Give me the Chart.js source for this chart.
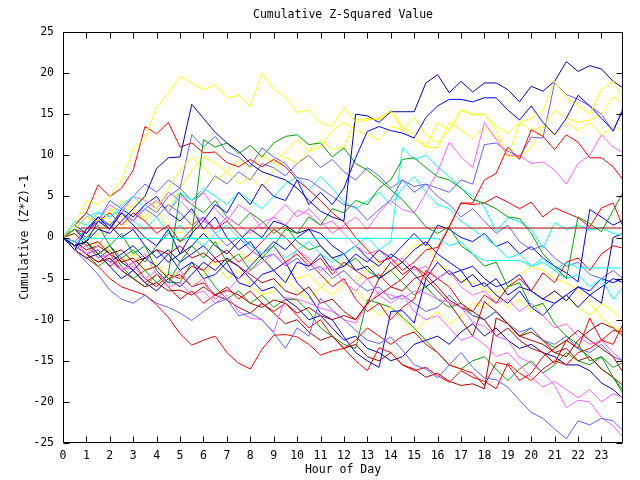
<!DOCTYPE html>
<html>
<head>
<meta charset="utf-8">
<title>Cumulative Z-Squared Value</title>
<script src="https://cdn.jsdelivr.net/npm/chart.js@4.4.0/dist/chart.umd.min.js"></script>
<style>
  html, body { margin: 0; padding: 0; background: #fff; }
  #wrap { width: 640px; height: 480px; }
</style>
</head>
<body>
<div id="wrap"><canvas id="chart" width="640" height="480"></canvas></div>
<script>
// sample times (hour of day), one every half hour
const hours = [0,0.5,1,1.5,2,2.5,3,3.5,4,4.5,5,5.5,6,6.5,7,7.5,8,8.5,9,9.5,10,10.5,11,11.5,12,12.5,13,13.5,14,14.5,15,15.5,16,16.5,17,17.5,18,18.5,19,19.5,20,20.5,21,21.5,22,22.5,23,23.5,23.92];
const hourTicks = [0,1,2,3,4,5,6,7,8,9,10,11,12,13,14,15,16,17,18,19,20,21,22,23];
const valueTicks = [-25,-20,-15,-10,-5,0,5,10,15,20,25];

// the flat dark red line
const flatHours = [0.75, 23.92];
const flatRed = [1.15, 1.15];

// cumulative (z*z)-1 per series
const cyanA = [0,-0.6,-0.1,-0.1,-0.1,-0.1,-0.1,-0.1,-0.1,-0.1,-0.1,-0.1,-0.1,-0.1,-0.1,-0.1,-0.1,-0.1,-0.1,-0.1,-0.1,-0.1,-0.1,-0.1,-0.1,-0.1,-0.1,-0.1,-0.1,-0.1,-0.1,-0.1,-0.1,-1,-0.5,-2,-2.8,-2.8,-2.8,-2.8,-3.5,-2.5,-4,-3,-3.7,-3.7,-3.7,-3.7,-3.7];
const yellowA = [0,1.5,4.5,4,5,7,10.8,12,15.9,17.5,19.6,18.8,18,18.6,17,17.3,16,20,18,17.1,15.2,15.5,14,13.5,15.8,14,14.3,14.5,15.5,13.5,12.5,11,14,13,15.5,15,15,13.5,12.7,14,14.5,15.5,19,17,16,15,18,19,17];
const blueA = [0,-1,-0.5,1,0.5,2,3.5,5,8.4,9.7,9.8,16.2,14.5,12.8,11.5,10.5,9,8,7.5,7,6,4.5,3.2,2.5,2,15,14.8,14,15.3,15.3,15.3,18.8,19.8,17.6,19,17.7,18.8,18.8,18,16.5,18.4,17.8,19,21.4,20.2,20.9,20.5,19,18.2];
const blueB = [0,-1.5,1,2.5,1,3,1.5,0,-1,1,-2,0.5,2,4,3,5.5,4,6.5,5,4.5,7,4,5.5,4,6,9.7,12.9,13.5,13,12.7,12.1,14.6,16,16.8,16.8,16.5,17,17,15.5,14.3,16,14,12.5,14.5,17.3,16,14.5,13,15.5];
const redA = [0,1.5,3,6.4,5,6,8.2,13.5,12.6,14,11,11.5,10.3,10.4,9.1,8.6,9.5,8.6,9.5,8.6,7,5.8,4.5,3,1.9,0,-1.5,-3,-2.5,-4,-3,-1.5,-1.2,1.3,4.2,4.2,7,7.8,11,9.5,13.1,12.3,10.7,12.5,11.6,9.7,9.7,8.6,7];
const greenA = [0,-1,-0.5,-2,-1,-2.5,-1.5,-3,-1,0.5,-0.5,0.3,11.9,11,11.5,10.2,11.2,9.8,11.5,12.3,12.5,11.3,11.5,9.8,10.9,9,8.2,7,5.8,4.6,3,1.3,0.5,1.3,-1,-2,-3.5,-3,-6,-5.5,-8.5,-8,-10.5,-12,-13,-15,-14.5,-17,-19];
const greenB = [0,1,0,1.5,-1,0.5,-2,-1,-4,-5.5,-3,-1,-2.5,-0.5,-3,-2,-4,-2.5,-1,1,0.5,2.5,1.5,3.5,3,4.5,4,6,7,9.5,9.7,8.5,7.4,7,6,4.6,4.2,3.5,2.5,2.3,0.5,-2,-3.5,-5,2.5,1.7,0.7,3.3,5.5];
const magentaA = [0,-0.5,-2,-1,1,3,2,3.5,4.5,3,5,4,5.5,3.5,2,4,3,1,2.5,4,2.5,3.5,2,0.5,1.5,2.5,1,3,4.5,3.4,3,5.4,8,11.6,9.8,8.5,14,11.9,10,10,9,9.2,8.2,6.5,9,10,12.5,11,10.3];
const yellowB = [0,1,2.5,2,3.5,2.5,4,5,3.5,6,8.2,9.8,8.5,7,8,6.5,7.5,6,8.2,9.8,9,10.5,11.9,10.7,11,14.3,14.5,14.3,15.5,13.1,14.6,12.5,11.5,13.1,15.5,14.9,15,13,9.7,14,13,13.5,15.5,14.5,14,14.3,15,17.1,16.4];
const lightBlueA = [0,-1,1,2.5,1.5,3,2,4,3,5,6,12.5,11,12.3,10.4,9.8,8.6,10.9,9.8,9,7.3,7,6,5,4,3.7,2.1,3.4,4.6,7,6.2,6.5,6,5.5,7,6.5,11.3,11.5,10.5,9.8,12.2,12.1,18.8,17.4,16.8,16,15,12.9,15.8];
const cyanB = [0,1,2.5,3.1,2.5,3.5,2,1,2.5,0.5,1.5,0,-1,0.5,1.5,0,-1,-2,-1,-2.5,-1.5,-0.5,-2,-3,-2,-1,0,-1.5,-0.5,10.9,9.5,10,8.6,7.4,6,5,3.7,0.7,2.4,1.9,1,-1.3,1.8,1,1.5,0.9,1.2,0.5,0.3];
const cyanC = [0,2,1.5,3,2.5,4,5,3.5,4.5,3,5.5,4.5,6,5,4,5.5,4.5,3.5,5,6.5,7.4,5.8,7.4,6,4.3,3.5,4.5,5.5,4,6,7.4,5.5,4,3.5,2,1,0,-1,-2.5,-2,-3.5,-3,-4,-5,-4.5,-6,-5,-7.5,-6];
const lightBlueB = [0,-1.5,-3,-4.5,-6.4,-7.5,-8,-7,-8,-8.5,-9.2,-10.1,-9,-8,-7.5,-9.5,-9.2,-10,-11.6,-13.5,-11,-12,-7.4,-8.8,-10,-11.3,-12.5,-12.9,-12.1,-13.7,-15.5,-16,-17.1,-15.5,-14,-15.8,-17.1,-17.3,-18.2,-19.8,-21.3,-22,-23.3,-24.5,-22.3,-22.8,-22,-22.3,-23.5];
const redB = [0,-1.5,-2.5,-3.5,-5,-6,-6.5,-7,-8.2,-9.7,-11.7,-13.1,-12.5,-12,-14,-15.3,-16,-13.6,-11.9,-11.8,-12.1,-13,-14.3,-13.8,-13.5,-15,-16.2,-13.4,-14,-15.5,-16.2,-15.8,-16.8,-17.6,-16.2,-17,-17.5,-18.4,-15.3,-16.5,-17.4,-16,-15,-15.5,-14,-13.5,-12.5,-13,-10.5];
const magentaB = [0,-1,-2,-1.5,-3,-4,-3.5,-5,-4,-6,-5.5,-7,-6.5,-8,-7,-9,-9.8,-10,-11.5,-7.3,-7.5,-8,-8.6,-9,-10,-10.4,-8.2,-6.6,-7,-7.5,-6.5,-6.8,-7.5,-7.9,-8.5,-10.3,-10.8,-12,-12.5,-14.6,-15.3,-16.5,-18,-20.7,-19.8,-20,-21.9,-22.9,-24.3];
const magentaC = [0,-1.5,-1,-2.5,-2,-4,-3,-2,-4.5,-5.5,-4,-6,-5,-7.5,-6.5,-5,-4,-3,-2,-3.5,-1.5,-2.5,-4,-3.5,-5.5,-6.5,-5,-7,-8,-7,-9,-10,-9.5,-11,-12.5,-12,-13,-14.5,-14,-15.5,-17,-18.2,-17.5,-18.5,-19.5,-18.5,-20,-19,-19.5];
const magentaD = [0,1,2.5,2,4,3,5,4.5,3.5,5.5,4.5,3,2,1,2.5,1.5,0.5,1.8,2.5,1.5,3.3,2.8,1.5,2,0.5,-1,-2,-1.5,-3,-2.5,-4,-3.5,-5,-4,-6,-7,-6.5,-8,-7.5,-9,-8,-9.5,-11,-10.5,-12,-13,-12.5,-14,-15];
const darkRedA = [0,-0.5,-1.5,-1,-2,-1.5,-3,-2.5,-1.5,-2,-1,-2.5,-1.9,-3,-2.7,-3.5,-4.5,-5.5,-5,-6.5,-7,-6,-8,-7.5,-9,-10,-8,-7,-6,-6.5,-5,-4.5,-6,-7.6,-8.5,-9,-10,-12,-11,-12.5,-13.5,-14,-15.3,-12.5,-11.3,-12.5,-13.5,-14.5,-16.4];
const darkRedB = [0,-1,-2,-3,-2.5,-4,-5,-6,-5.5,-6.5,-6.4,-7,-6,-7,-7.6,-8.5,-9.2,-8,-9.2,-10.5,-10,-11.5,-12.5,-12,-13.5,-13,-14.5,-15,-14,-15.5,-16,-17,-16.5,-17.5,-18,-17.8,-18.4,-9.8,-10.5,-12,-12.5,-13,-14,-14.5,-12.5,-11.3,-10.4,-11,-12];
const darkRedC = [0,0.5,-1,-0.5,-2,-3,-2.5,-4,-3.5,-5,-4.5,-6,-5.5,-7,-6.4,-7,-8,-8.5,-7.6,-8,-9.2,-8.5,-9.5,-10,-9.5,-10,-8,-5,-3,-4.5,-3.5,-5,-6.5,-8,-10,-12,-7.8,-9,-10.5,-12,-11.5,-12.5,-14,-13.5,-15,-14.5,-16,-17,-18];
const blueC = [0,1,-0.5,2,1,3.5,2.5,4,5,3,2,3.5,1,2.5,0,-1.5,-0.5,-2.5,-4,-3,-5.5,-7,-9.2,-10,-12.1,-14,-15,-15.8,-9,-8.9,-10.4,-5,-3,-4.5,-4,-6,-5.5,-7,-8,-6.5,-8.5,-9.5,-8,-7,-6,-6.5,-5,-5.5,-5];
const blueD = [0,-1,-2,-1.5,-3,-2,-1,-2.5,-3.5,-2,-4,-3,-5,-4.5,-3,-5.5,-6,-4.5,-4,-5.5,-3,-3.5,-2,-4,-3.5,-2,-3,-1.5,-2.5,-1,0.5,-1,1.5,1,0,-0.5,0.5,-1.1,-0.5,-2,-1.1,-2.5,-3.5,-4.3,-5.4,3.4,2.5,1.5,2.1];
const blueE = [0,-1,-0.5,-2,-1,-3,-4,-2.5,-1.5,-3,-2,-1,0.5,-1,-2,-0.5,1,0,2,1.5,0.5,1,-1,-2.5,-2,-4,-3.5,-5,-4,-3,-4.5,-6,-5,-4,-5.5,-4.5,-6,-5,-7,-6,-6.5,-7.5,-6.5,-7.7,-6,-7,-8,0,0.5];
const blueF = [0,-1.5,-2.5,-2,-3.5,-5,-4,-5.5,-6.5,-5,-6,-4.5,-3,-4,-2.5,-3.5,-5,-6.5,-6,-7.5,-8.5,-10,-9.5,-11,-12.5,-12,-13.5,-14,-15,-14.5,-13,-12.5,-12,-13,-11.5,-10.5,-12,-11,-12.5,-13.5,-13,-14,-14.5,-15.5,-15.5,-16.2,-17.7,-18.5,-19.6];
const blueG = [0,1.5,0.5,2.5,1.5,0,1,-1,-2.5,-1.5,-3,-2,-1,-2.5,-4,-5,-3.5,-2,-0.5,-1.5,0,1,0.5,-1,-2,-1,-2.5,-3.5,-2,-3,-1.5,-0.5,-2,-3,-4,-3.5,-5,-6,-5.5,-4.5,-6.5,-7.5,-8,-7,-8.5,-7,-6,-5,-5.5];
const lightBlueC = [0,-0.5,1,2,1.5,3,2,3.5,2.5,4,3,1.5,2.5,0.5,-1,0,-1.5,-2.5,-2,-3.5,-2.5,-4,-3.5,-5,-4,-5.5,-6.5,-6,-7.5,-7,-8,-9,-8.5,-7,-8.5,-9.5,-10,-9,-10.5,-11.5,-11,-12.5,-13,-12,-13.5,-14,-13,-14.5,-15];
const lightBlueD = [0,1.5,3,2,4.5,3.5,5,6.5,5.5,7,6,4.5,5.5,7.5,6.5,8,7,9,8.5,7.5,9,10,8.5,9.5,8,7,8.5,7.5,6,7,5.5,6.5,5,4,2.5,3.5,2,0.5,1.5,-0.5,-1.5,-1,-2.5,-3.5,-3,-4.5,-5,-4,-5];
const redC = [0,-1,-2,-3,-2,-4,-3,-5,-6,-4.5,-5,-3.5,-4,-2.5,-1.5,-3,-2,-0.5,1,0,-1.5,-3,-4.5,-6,-5,-7.5,-9,-8,-10,-8.5,-7.5,-4,-5,-6,-8,-9,-7,-8,-6,-5,-6.5,-4.3,-5.5,-3,-2.5,-4,-2,-1,-1.3];
const redD = [0,1,0.5,2,3,1.5,3,2,0.5,1.5,-0.5,1,2.5,1,2,0.5,-1,-2,-1,-3,-2,-3.5,-2.5,-4.5,-3,-4,-5,-4.5,-6,-5,-3.5,-4.5,-1.5,1.3,4.2,4,4.2,5,4.3,3.5,4.3,2.5,3.6,3,2.4,1.3,3.6,4.2,1.3];
const redE = [0,-1,-0.5,-2,-3.5,-2.5,-4,-5.5,-4.5,-6,-7.5,-6.5,-8,-7,-6,-7.5,-6.5,-8,-9,-8,-9.5,-11,-10,-12,-13.5,-12.5,-11,-12,-13,-12,-11.5,-13,-14,-15.5,-16,-16.5,-18,-15.2,-15.5,-17.4,-16.5,-14.5,-13.5,-12.5,-13.5,-9.8,-12.5,-11.3,-11.5];
const yellowC = [0,-1,-2,-0.5,-1.5,-3,-2,-4,-3,-5,-4,-6,-4.5,-3,-5,-4,-6,-7,-6.5,-5,-6.5,-7.5,-6,-5,-4,-5.5,-4,-3,-4.5,-2.5,-1,-0.7,-3,-4.3,-5.2,-5.5,-6.4,-6.8,-6,-4.5,-3.5,-4,-5,-5.5,-6.4,-8,-9.8,-10.9,-11.5];
const yellowD = [0,1,2.5,1.5,3,4.5,3.5,2,3.5,1,0.5,2,1,-1,0,-1.5,-3,-2,-4,-3,-5,-4.5,-6,-7,-5.5,-6.5,-8,-9.5,-8.5,-10,-11.5,-10,-9,-10.5,-9.5,-8,-8.5,-7,-8.5,-7.5,-9,-8,-6.5,-7.5,-8.5,-9.5,-8,-9,-10];
const yellowE = [0,0.5,-1,0.5,2,1,3,2.5,4.5,3.5,6,8.2,9.8,9,8,9.5,8.5,10,9,10.5,11.9,10.5,11,13,14,13.1,12.5,11.9,13.5,13.1,12,11,10.9,14,13.1,12,13.5,12.2,10,9.7,11,13.5,12.5,14,13,14,12.5,13.5,13];
const greenC = [0,-1.5,-0.5,-2.5,-1.5,-3.5,-5,-6,-4.5,-5.5,-5.5,-3,-4,-6,-7.5,-6.5,-8,-7,-8.5,-7.5,-7.6,-9,-11,-12,-13,-13.5,-7.6,-8,-8.5,-9.7,-11,-12.5,-14,-15.5,-16,-15,-14.5,-16,-17.4,-16,-15,-16.5,-15.5,-14,-15,-15.5,-14.5,-15.8,-15.2];
const greenD = [0,-1,-2,-3.5,-2.5,-4,-5,-4,-5.5,-4.5,5.4,4,3,4.5,2.5,1.5,3,2,0.5,1.5,-0.5,-1.5,-1,-2.5,-3.5,-2.5,-4,-5,-4,-5.5,-7,-6,-7.5,-8.5,-8,-9.5,-10,-9,-10.5,-12,-11,-12.5,-13.4,-12.5,-13.5,-14.5,-16,-17,-18.6];

const YELLOW = '#ffff00', BLUE = '#0000ff', DARKBLUE = '#0000b4', LIGHTBLUE = '#6060ff',
      RED = '#ff0000', DARKRED = '#b00000', GREEN = '#00a000', CYAN = '#00ffff', MAGENTA = '#ff60ff';

// series drawn in list order, first one on top
const seriesList = [
  [cyanA, CYAN], [yellowA, YELLOW], [blueA, DARKBLUE], [blueB, BLUE], [redA, RED],
  [greenA, GREEN], [greenB, GREEN], [magentaA, MAGENTA], [yellowB, YELLOW], [lightBlueA, LIGHTBLUE],
  [cyanB, CYAN], [cyanC, CYAN], [lightBlueB, LIGHTBLUE], [redB, RED], [magentaB, MAGENTA],
  [magentaC, MAGENTA], [magentaD, MAGENTA], [darkRedA, DARKRED], [darkRedB, DARKRED], [darkRedC, DARKRED],
  [blueC, BLUE], [blueD, BLUE], [blueE, DARKBLUE], [blueF, DARKBLUE], [blueG, BLUE],
  [lightBlueC, LIGHTBLUE], [lightBlueD, LIGHTBLUE], [redC, RED], [redD, RED], [redE, RED],
  [yellowC, YELLOW], [yellowD, YELLOW], [yellowE, YELLOW], [greenC, GREEN], [greenD, GREEN]
];

function lineSet(xs, ys, color) {
  return {
    data: ys.map((v, i) => ({ x: xs[i], y: v })),
    borderColor: color,
    borderWidth: 1,
    pointRadius: 0,
    tension: 0,
    fill: false
  };
}

const datasets = [lineSet(flatHours, flatRed, DARKRED)];
seriesList.forEach(s => datasets.push(lineSet(hours, s[0], s[1])));

// frame round the plot with inward tick marks on all four sides
const frameTicks = {
  id: 'frameTicks',
  afterDatasetsDraw(chart) {
    const { ctx, chartArea: a, scales: { x, y } } = chart;
    const L = Math.round(a.left) + 0.5, R = Math.round(a.right) - 0.5;
    const T = Math.round(a.top) + 0.5, B = Math.round(a.bottom) - 0.5;
    ctx.save();
    ctx.strokeStyle = '#000';
    ctx.lineWidth = 1;
    ctx.beginPath();
    ctx.rect(L, T, R - L, B - T);
    x.ticks.forEach(t => {
      const px = Math.round(x.getPixelForValue(t.value)) + 0.5;
      ctx.moveTo(px, B); ctx.lineTo(px, B - 6);
      ctx.moveTo(px, T); ctx.lineTo(px, T + 6);
    });
    y.ticks.forEach(t => {
      const py = Math.round(y.getPixelForValue(t.value)) + 0.5;
      ctx.moveTo(L, py); ctx.lineTo(L + 6, py);
      ctx.moveTo(R, py); ctx.lineTo(R - 6, py);
    });
    ctx.stroke();
    ctx.restore();
  }
};

Chart.defaults.font.family = "'DejaVu Sans Mono', monospace";
Chart.defaults.font.size = 11.5;
Chart.defaults.color = '#000';

new Chart(document.getElementById('chart'), {
  type: 'line',
  data: { datasets: datasets },
  plugins: [frameTicks],
  options: {
    responsive: false,
    animation: false,
    devicePixelRatio: 1,
    layout: { padding: { left: 0, right: 17, top: 0, bottom: 0 } },
    plugins: {
      legend: { display: false },
      tooltip: { enabled: false },
      title: {
        display: true,
        text: 'Cumulative Z-Squared Value',
        fullSize: false,
        font: { weight: 'normal' },
        padding: { top: 8, bottom: 10.2 }
      }
    },
    scales: {
      x: {
        type: 'linear',
        min: 0,
        max: 23.92,
        afterBuildTicks: s => { s.ticks = hourTicks.map(v => ({ value: v })); },
        afterFit: s => { s.height = 37; },
        grid: { display: false, drawTicks: false },
        border: { display: false },
        ticks: { autoSkip: false, maxRotation: 0, padding: 6 },
        title: { display: true, text: 'Hour of Day', padding: { top: 0, bottom: 3 } }
      },
      y: {
        type: 'linear',
        min: -25,
        max: 25,
        afterBuildTicks: s => { s.ticks = valueTicks.map(v => ({ value: v })); },
        afterFit: s => { s.width = 63; },
        grid: { display: false, drawTicks: false },
        border: { display: false },
        ticks: { padding: 9 },
        title: { display: true, text: 'Cumulative (Z*Z)-1', padding: { top: 18, bottom: 0 } }
      }
    }
  }
});
</script>
</body>
</html>
